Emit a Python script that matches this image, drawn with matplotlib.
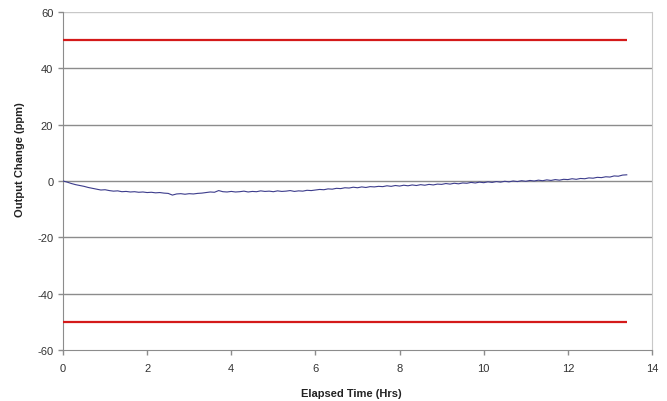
import matplotlib
matplotlib.use("Agg")
import matplotlib.pyplot as plt
import numpy as np

plt.rcParams['font.family'] = ['Liberation Sans', 'DejaVu Sans']
plt.rcParams['axes.unicode_minus'] = False

time_hrs = [round(0.1 * i, 1) for i in range(135)]
output_change = [
    0.0, -0.4, -0.9, -1.3, -1.6, -1.9, -2.3, -2.6, -2.9, -3.2,
    -3.1, -3.4, -3.6, -3.5, -3.8, -3.7, -3.9, -3.8, -4.0, -3.9,
    -4.1, -4.0, -4.2, -4.1, -4.3, -4.4, -5.0, -4.6, -4.5, -4.7,
    -4.5, -4.6, -4.4, -4.3, -4.1, -3.9, -4.0, -3.4, -3.8, -3.9,
    -3.7, -3.9, -3.8, -3.6, -3.9, -3.7, -3.8, -3.5, -3.7, -3.6,
    -3.8, -3.5, -3.7, -3.6, -3.4, -3.7, -3.5, -3.6, -3.3, -3.4,
    -3.2, -3.0, -3.1, -2.8, -2.9, -2.6, -2.7, -2.4, -2.5, -2.2,
    -2.4, -2.1, -2.3, -2.0, -2.1, -1.9, -2.0, -1.7, -1.9, -1.6,
    -1.8, -1.5, -1.7, -1.4, -1.6, -1.3, -1.5, -1.2, -1.4, -1.1,
    -1.2, -0.9, -1.1, -0.8, -1.0, -0.7, -0.8, -0.5, -0.7, -0.4,
    -0.6, -0.3, -0.5, -0.2, -0.4, -0.1, -0.3, 0.0, -0.2, 0.1,
    -0.1, 0.2, 0.0, 0.3, 0.1, 0.4, 0.2, 0.5, 0.3, 0.6,
    0.5, 0.8, 0.6, 0.9, 0.8, 1.1, 1.0, 1.3, 1.2, 1.5,
    1.4, 1.8, 1.7, 2.1, 2.2,
]
limit_x = [0.0, 13.4]
upper_limit = [50, 50]
lower_limit = [-50, -50]

x_ticks = [0, 2, 4, 6, 8, 10, 12, 14]
y_ticks = [-60, -40, -20, 0, 20, 40, 60]

fig = plt.figure(figsize=(6.67, 4.02), dpi=100)
ax = fig.add_axes([63/667, 1 - 351/402, (652 - 63)/667, (351 - 13)/402])

for yv in y_ticks[1:-1]:
    ax.axhline(yv, color='#8c8c8c', lw=1.0, zorder=1)
ax.axhline(60, color='#c8c8c8', lw=1.0, zorder=1)

ax.plot(limit_x, upper_limit, color='#d41a1a', lw=1.6, zorder=3, solid_capstyle='butt')
ax.plot(limit_x, lower_limit, color='#d41a1a', lw=1.6, zorder=3, solid_capstyle='butt')
ax.plot(time_hrs, output_change, color='#3c3c8c', lw=0.8, zorder=4)

ax.set_xlim(0, 14)
ax.set_ylim(-60, 60)
ax.set_xticks(x_ticks)
ax.set_yticks(y_ticks)
ax.tick_params(axis='both', labelsize=8, colors='#8c8c8c', labelcolor='#333333',
               direction='out', length=3.5, width=1)
ax.tick_params(axis='x', pad=6)

ax.spines['top'].set_visible(False)
ax.spines['right'].set_color('#c8c8c8')
ax.spines['left'].set_color('#8c8c8c')
ax.spines['bottom'].set_color('#8c8c8c')

ax.set_xlabel('Elapsed Time (Hrs)', fontsize=8, fontweight='bold', color='#222222')
ax.xaxis.set_label_coords(0.49, -0.112)
ax.set_ylabel('Output Change (ppm)', fontsize=8, fontweight='bold', color='#222222')
ax.yaxis.set_label_coords(-0.0645, 0.565)

fig.savefig('out.png', dpi=100)
